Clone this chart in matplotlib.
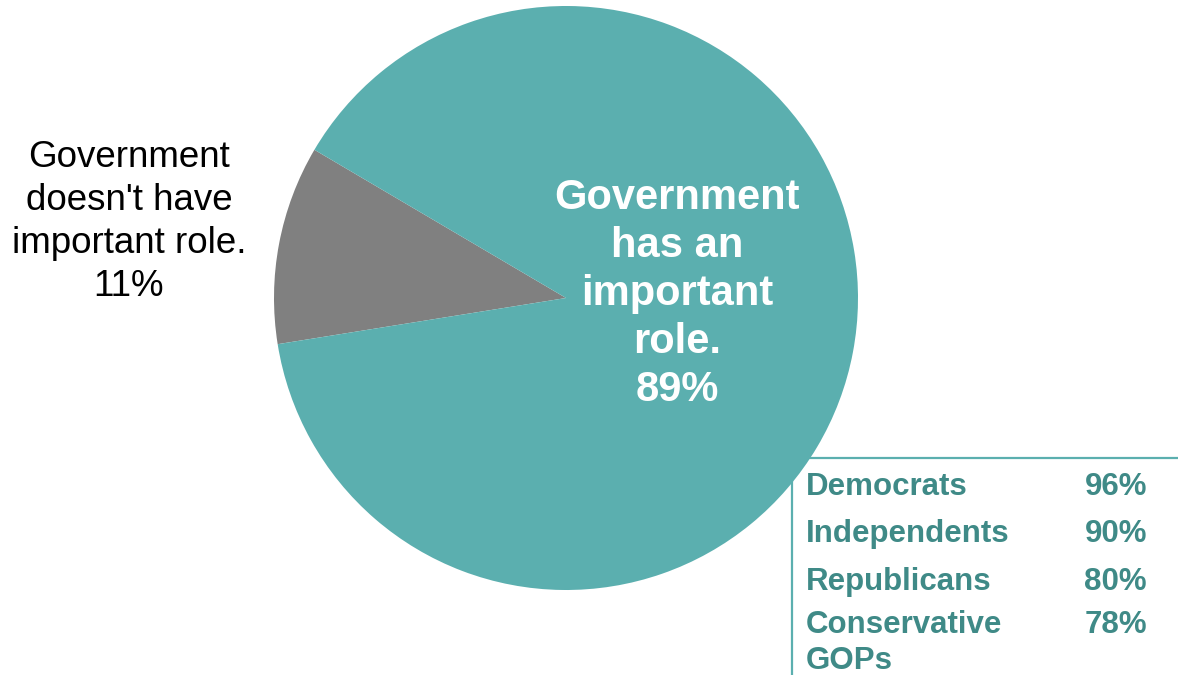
import matplotlib
matplotlib.use("Agg")
import matplotlib.pyplot as plt

plt.rcParams['font.family'] = ['Liberation Sans', 'DejaVu Sans']

# Data
slice_labels = ["Government doesn't have important role.", "Government has an important role."]
slice_values = [11, 89]
slice_colors = ["#808080", "#5BAFAF"]

groups = ["Democrats", "Independents", "Republicans", "Conservative\nGOPs"]
group_pcts = [96, 90, 80, 78]

W, H = 1178, 675
fig = plt.figure(figsize=(W / 100, H / 100), dpi=100)
ax = fig.add_axes([0, 0, 1, 1])

def Y(y):
    return H - y

ax.pie(slice_values, colors=slice_colors, startangle=149.5, counterclock=True,
       center=(566, Y(298)), radius=292, wedgeprops=dict(linewidth=0),
       frame=True)
ax.set_xlim(0, W)
ax.set_ylim(0, H)
ax.set_aspect('equal')
ax.axis('off')

ax.text(129, Y(222), "Government\ndoesn't have\nimportant role.\n%d%%" % slice_values[0],
        ha='center', va='center', fontsize=26.5, color='black', linespacing=1.3)
ax.text(677, Y(294), "Government\nhas an\nimportant\nrole.\n%d%%" % slice_values[1],
        ha='center', va='center', fontsize=30, fontweight='bold', color='white',
        linespacing=1.26)

line_c = "#5BAFAF"
ax.plot([790, W], [Y(458), Y(458)], color=line_c, lw=1.6, solid_capstyle='butt')
ax.plot([792, 792], [Y(458), Y(H)], color=line_c, lw=1.6, solid_capstyle='butt')

txt_c = "#3F8A87"
baselines = [495, 542, 590, 633]
for g, p, b in zip(groups, group_pcts, baselines):
    for i, line in enumerate(g.split('\n')):
        ax.text(806, Y(b + i * 36), line, ha='left', va='baseline', fontsize=22.5,
                fontweight='bold', color=txt_c)
    ax.text(1147, Y(b), "%d%%" % p, ha='right', va='baseline', fontsize=22.5,
            fontweight='bold', color=txt_c)

fig.savefig("out.png", dpi=100)
